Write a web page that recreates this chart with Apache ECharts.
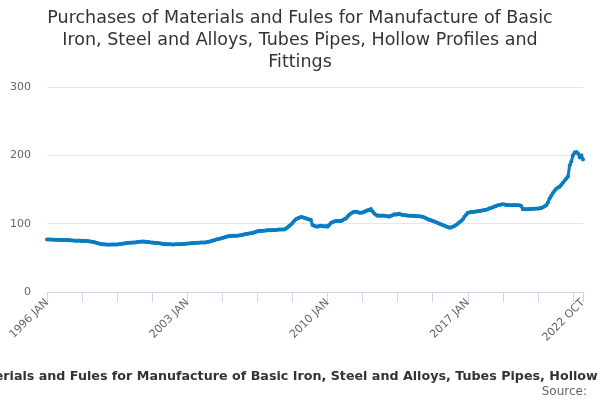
<!DOCTYPE html>
<html lang="en">
<head>
    <meta charset="UTF-8">
    <title>Purchases of Materials and Fules</title>
	<style>
	body { margin: 0; background: #fff; }
	</style>
</head>
<body>
    <div id="chart1" style="width:600px;height:400px;"></div>
	<script src="https://cdn.jsdelivr.net/npm/echarts@6/dist/echarts.min.js"></script>
	<script>
	var titleText = 'Purchases of Materials and Fules for Manufacture of Basic\nIron, Steel and Alloys, Tubes Pipes, Hollow Profiles and\nFittings';
	var footText = 'Purchases of Materials and Fules for Manufacture of Basic Iron, Steel and Alloys, Tubes Pipes, Hollow Profiles and Fittings';
	var firstYear = 1996;
	var monthNames = ['JAN','FEB','MAR','APR','MAY','JUN','JUL','AUG','SEP','OCT','NOV','DEC'];
	var yTicks = [0, 100, 200, 300];

	// monthly values, one row per year (1996 JAN .. 2022 OCT)
	var v1996 = [77,77,76.8,76.7,76.5,76.4,76.3,76.2,76.2,76.1,76,76];
	var v1997 = [76,75.8,75.6,75.4,75.2,75,75,75.2,75,74.8,74.7,74.6];
	var v1998 = [74.5,74.2,73.8,73.4,73,72.4,71.8,71,70.3,70,69.8,69.6];
	var v1999 = [69.5,69.3,69.4,69.6,69.5,69.4,69.5,69.8,70.2,70.6,71,71.4];
	var v2000 = [71.8,72,72.2,72.3,72.3,72.6,73,73.4,73.6,73.8,74,73.6];
	var v2001 = [73.2,73,72.6,72.3,72,71.8,71.6,71.2,70.8,70.5,70.3,70.2];
	var v2002 = [70,69.8,69.7,69.6,69.6,69.7,69.8,69.9,70,70.2,70.4,70.6];
	var v2003 = [70.8,71,71.2,71.4,71.6,71.8,72,72.2,72.3,72.4,72.5,72.6];
	var v2004 = [73,73.5,74.2,75,75.8,76.5,77.2,77.8,78.3,79,79.8,80.5];
	var v2005 = [81.2,81.8,82,82.2,82.4,82.5,82.4,82.6,83,83.6,84.2,84.8];
	var v2006 = [85.2,85.5,85.8,86.2,87,88,88.8,89.2,89.3,89.5,89.8,90];
	var v2007 = [90.3,90.5,90.3,90.6,90.5,90.8,91,91.3,91.5,91.4,91.5,92.5];
	var v2008 = [94.5,96.5,98.5,101,104,106.5,107.7,108.5,109.7,109.5,108.5,108];
	var v2009 = [107,106.2,105.7,98,97,96,95.5,96.5,97,96.5,95.8,96.2];
	var v2010 = [95.5,98,101,102,103,103.8,104,103.8,104,105,106.5,107.7];
	var v2011 = [110,113,115,116.5,117.5,117.5,117,116,116,116.5,117.5,118.5];
	var v2012 = [119.5,120.5,121.4,118,115,113,111.6,112,111.5,111.8,111.6,111.4];
	var v2013 = [111,110,111.5,112.5,113.6,113,114,114.5,113.5,112.8,112.6,112];
	var v2014 = [111.8,111.6,111.6,111.3,111.5,111,111,110.8,110.5,110,109,107.8];
	var v2015 = [106.7,105.5,105,104,103,102,101,100,99,98,97,96];
	var v2016 = [95,94,94.5,95.5,96.5,98,100,102,104,106,110,113];
	var v2017 = [116,116.5,117,117.2,117.5,117.8,118,118.5,119,119.5,120,120.5];
	var v2018 = [121,122.4,123,124,125,126,126.8,127.5,128,128.3,128,127.5];
	var v2019 = [127.2,127,126.8,127,127.2,127,126.8,127,126,121,121.5,121];
	var v2020 = [121.2,121.5,121.4,121.8,122,122.2,122,122.4,123,124,125.5,127];
	var v2021 = [131,137,141,145,148,151,153,154,157,160,163,166];
	var v2022 = [169,185,191,200,204,205,203,197,200,194];

	var values = [].concat(v1996, v1997, v1998, v1999, v2000, v2001, v2002, v2003, v2004,
		v2005, v2006, v2007, v2008, v2009, v2010, v2011, v2012, v2013, v2014, v2015,
		v2016, v2017, v2018, v2019, v2020, v2021, v2022);

	var categories = [];
	for (var i = 0; i < values.length; i++) {
		categories.push((firstYear + Math.floor(i / 12)) + ' ' + monthNames[i % 12]);
	}
	var last = categories.length - 1;

	var myChart = echarts.init(document.getElementById('chart1'));
	myChart.setOption({
		animation: false,
		textStyle: { fontFamily: 'DejaVu Sans' },
		title: [
			{
				text: titleText,
				left: 'center',
				top: 2,
				textStyle: { fontSize: 17.5, fontWeight: 'normal', color: '#333', lineHeight: 22, fontFamily: 'DejaVu Sans' }
			},
			{
				text: footText,
				left: 304,
				textAlign: 'center',
				top: 365,
				textStyle: { fontSize: 12.7, fontWeight: 'bold', color: '#333', fontFamily: 'DejaVu Sans' }
			},
			{
				text: 'Source:',
				right: 8,
				top: 381,
				textStyle: { fontSize: 12, fontWeight: 'normal', color: '#666', fontFamily: 'DejaVu Sans' }
			}
		],
		grid: { left: 47, right: 17, top: 87, bottom: 108 },
		xAxis: {
			type: 'category',
			data: categories,
			boundaryGap: false,
			axisLine: { lineStyle: { color: '#ccd6eb' } },
			axisTick: {
				length: 10,
				lineStyle: { color: '#ccd6eb' },
				interval: function (idx) { return idx % 21 === 0 || idx === last; }
			},
			axisLabel: {
				rotate: 45,
				color: '#666',
				fontSize: 11,
				margin: 9,
				interval: function (idx) { return idx % 84 === 0 || idx === last; }
			},
			splitLine: { show: false }
		},
		yAxis: {
			type: 'value',
			min: yTicks[0],
			max: yTicks[yTicks.length - 1],
			interval: 100,
			axisLine: { show: false },
			axisTick: { show: false },
			axisLabel: { color: '#666', fontSize: 11, margin: 16 },
			splitLine: { lineStyle: { color: '#e6e6e6' } }
		},
		series: [
			{
				type: 'line',
				data: values,
				showSymbol: true,
				showAllSymbol: true,
				symbol: 'circle',
				symbolSize: 4,
				color: '#0a7cc1',
				lineStyle: { width: 3, color: '#0a7cc1' },
				itemStyle: { color: '#0a7cc1' }
			}
		]
	});
	</script>
</body>
</html>
